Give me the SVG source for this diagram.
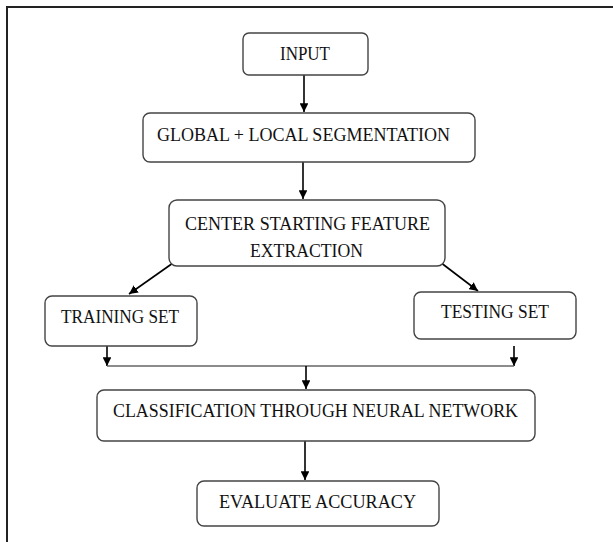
<svg xmlns="http://www.w3.org/2000/svg" width="613" height="542" viewBox="0 0 613 542">
<style>
.box{fill:#fff;stroke:#444;stroke-width:1.4}
.t{font-family:"Liberation Serif","Times New Roman",serif;font-size:18.5px;fill:#111;text-anchor:middle}
.c{stroke:#000;stroke-width:1.6;fill:none}
.g{stroke:#666;stroke-width:1.4;fill:none}
</style>
<defs>
<marker id="ah" viewBox="0 0 10 10" refX="10" refY="5" markerWidth="5.5" markerHeight="5.5" orient="auto" markerUnits="strokeWidth">
<path d="M0,0 L10,5 L0,10 z" fill="#000"/>
</marker>
</defs>
<rect width="613" height="542" fill="#fff"/>
<path d="M7,542 V7 H613" fill="none" stroke="#222" stroke-width="2"/>
<g id="connectors">
<path class="c" d="M304,75 V112" marker-end="url(#ah)"/>
<path class="c" d="M303,162 V199" marker-end="url(#ah)"/>
<path class="c" d="M173,263 L129,294" marker-end="url(#ah)"/>
<path class="c" d="M440,262 L478,291" marker-end="url(#ah)"/>
<path class="c" d="M107,346 V366" marker-end="url(#ah)"/>
<path class="c" d="M514,346 V366" marker-end="url(#ah)"/>
<path class="g" d="M107,366 H514"/>
<path class="c" d="M306,366 V389" marker-end="url(#ah)"/>
<path class="c" d="M305,441 V480" marker-end="url(#ah)"/>
</g>
<g id="input">
<rect class="box" x="243" y="33" width="125" height="42" rx="6"/>
<text class="t" x="305" y="60" textLength="50" lengthAdjust="spacingAndGlyphs">INPUT</text>
</g>
<g id="segmentation">
<rect class="box" x="143" y="113" width="332" height="49" rx="7"/>
<text class="t" x="303.5" y="141" textLength="293" lengthAdjust="spacingAndGlyphs">GLOBAL + LOCAL SEGMENTATION</text>
</g>
<g id="feature">
<rect class="box" x="169" y="200" width="276" height="66" rx="8"/>
<text class="t" x="307.5" y="230" textLength="245" lengthAdjust="spacingAndGlyphs">CENTER STARTING FEATURE</text>
<text class="t" x="306.5" y="257" textLength="113" lengthAdjust="spacingAndGlyphs">EXTRACTION</text>
</g>
<g id="training">
<rect class="box" x="45" y="296" width="152" height="50" rx="7"/>
<text class="t" x="120" y="323" textLength="118" lengthAdjust="spacingAndGlyphs">TRAINING SET</text>
</g>
<g id="testing">
<rect class="box" x="414" y="292" width="162" height="47" rx="7"/>
<text class="t" x="495" y="318" textLength="108" lengthAdjust="spacingAndGlyphs">TESTING SET</text>
</g>
<g id="classification">
<rect class="box" x="97" y="390" width="438" height="51" rx="7"/>
<text class="t" x="315.5" y="417" textLength="405" lengthAdjust="spacingAndGlyphs">CLASSIFICATION THROUGH NEURAL NETWORK</text>
</g>
<g id="evaluate">
<rect class="box" x="197" y="481" width="242" height="45" rx="7"/>
<text class="t" x="317.5" y="508" textLength="197" lengthAdjust="spacingAndGlyphs">EVALUATE ACCURACY</text>
</g>
</svg>
